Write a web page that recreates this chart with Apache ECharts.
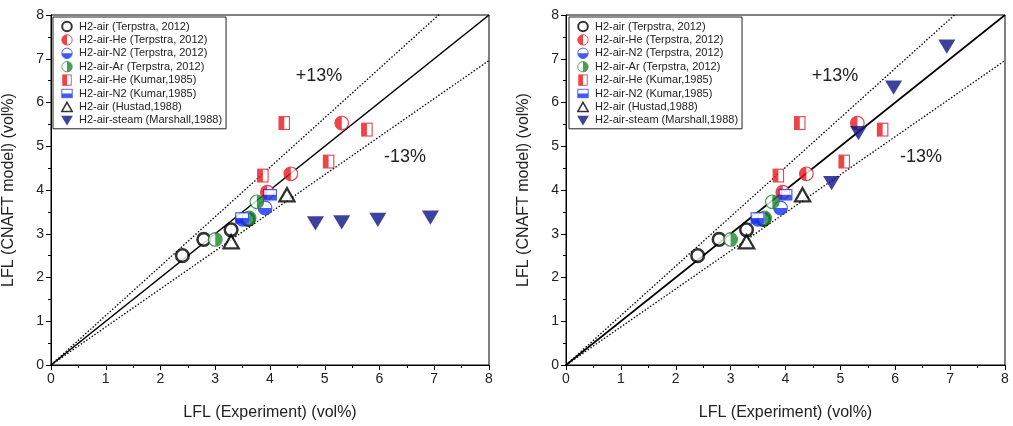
<!DOCTYPE html>
<html>
<head>
<meta charset="utf-8">
<script src="https://cdn.jsdelivr.net/npm/echarts@6/dist/echarts.min.js"></script>
<style>
  html, body { margin: 0; padding: 0; background: #fff; }
  #main { width: 1013px; height: 426px; }
</style>
</head>
<body>
<div id="main"></div>
<script>
// 数据 (LFL 实验值, LFL 模型值)
const terpAir = [[2.40, 2.50], [2.79, 2.87], [3.29, 3.09], [3.60, 3.33]];
const terpHe = [[3.95, 3.95], [4.38, 4.37], [5.31, 5.53]];
const terpN2 = [[3.50, 3.33], [3.91, 3.59]];
const terpAr = [[3.00, 2.87], [3.62, 3.36], [3.76, 3.73]];
const kumarHe = [[3.87, 4.33], [4.26, 5.53], [5.07, 4.65], [5.77, 5.38]];
const kumarN2 = [[3.49, 3.36], [4.00, 3.89]];
const hustad = [[3.29, 2.82], [4.31, 3.89]];
const marshallLeft = [[4.83, 3.25], [5.31, 3.27], [5.97, 3.33], [6.93, 3.38]];
const marshallRight = [[4.84, 4.17], [5.33, 5.31], [5.97, 6.35], [6.94, 7.29]];
const bandRatios = [1.13, 0.87];
const bandLabels = ["+13%", "-13%"];
const names = [
  "H2-air (Terpstra, 2012)",
  "H2-air-He (Terpstra, 2012)",
  "H2-air-N2 (Terpstra, 2012)",
  "H2-air-Ar (Terpstra, 2012)",
  "H2-air-He (Kumar,1985)",
  "H2-air-N2 (Kumar,1985)",
  "H2-air (Hustad,1988)",
  "H2-air-steam (Marshall,1988)",
];

const RED = "#e8161c";
const BLUE = "#1530f0";
const GREEN = "#17882a";
const NAVY = "#0f1488";

function svgIcon(body) {
  const svg = "<svg xmlns='http://www.w3.org/2000/svg' width='40' height='40' viewBox='0 0 20 20'>" + body + "</svg>";
  return "image://data:image/svg+xml;charset=utf-8," + encodeURIComponent(svg);
}

// 标记符号
const symbols = [
  svgIcon("<circle cx='10' cy='10' r='7.4' fill='white' stroke='black' stroke-width='3'/>"),
  svgIcon("<circle cx='10' cy='10' r='8' fill='white' stroke='" + RED + "' stroke-width='1.4'/><path d='M10 2 A8 8 0 0 0 10 18 Z' fill='" + RED + "'/>"),
  svgIcon("<circle cx='10' cy='10' r='8' fill='white' stroke='" + BLUE + "' stroke-width='1.4'/><path d='M2 10 A8 8 0 0 0 18 10 Z' fill='" + BLUE + "'/>"),
  svgIcon("<circle cx='10' cy='10' r='8' fill='white' stroke='" + GREEN + "' stroke-width='1.4'/><path d='M10 2 A8 8 0 0 1 10 18 Z' fill='" + GREEN + "'/>"),
  svgIcon("<rect x='3.5' y='2' width='13' height='16' fill='white' stroke='" + RED + "' stroke-width='1.4'/><rect x='3.5' y='2' width='6.5' height='16' fill='" + RED + "'/>"),
  svgIcon("<rect x='2' y='3.5' width='16' height='13' fill='white' stroke='" + BLUE + "' stroke-width='1.4'/><rect x='2' y='10' width='16' height='6.5' fill='" + BLUE + "'/>"),
  svgIcon("<path d='M10 3 L18 17 L2 17 Z' fill='white' stroke='black' stroke-width='2.4' stroke-linejoin='miter'/>"),
  svgIcon("<path d='M1 3 L19 3 L10 18 Z' fill='" + NAVY + "'/>"),
];
const sizes = [17, 17, 17, 17, 16, 16, 19, 19];

const FONT = "Liberation Sans";

function makeSeries(gi, marshall) {
  const sets = [terpAir, terpHe, terpN2, terpAr, kumarHe, kumarN2, hustad, marshall];
  const out = [];
  // y = x 和 ±13% 线
  out.push({
    type: "line", xAxisIndex: gi, yAxisIndex: gi, silent: true, symbol: "none",
    data: [[0, 0], [8, 8]], lineStyle: { color: "#000", width: 1.6 }, z: 1,
  });
  bandRatios.forEach(function (r) {
    out.push({
      type: "line", xAxisIndex: gi, yAxisIndex: gi, silent: true, symbol: "none", clip: true,
      data: [[0, 0], [8, 8 * r]], lineStyle: { color: "#000", width: 1.3, type: [1.5, 1.8] }, z: 1,
    });
  });
  sets.forEach(function (d, i) {
    out.push({
      type: "scatter", name: names[i], xAxisIndex: gi, yAxisIndex: gi,
      symbol: symbols[i], symbolSize: sizes[i], data: d, z: 3,
    });
  });
  return out;
}

const grids = [
  { left: 50, top: 15, width: 439, height: 355 },
  { left: 566, top: 15, width: 439, height: 355 },
];

function axisCommon(name, isX) {
  return {
    type: "value", min: 0, max: 8, interval: 1, name: name,
    nameLocation: "middle", nameGap: isX ? 40 : 34,
    nameTextStyle: { fontFamily: FONT, fontSize: 16, color: "#222" },
    axisLine: { show: true, onZero: false, lineStyle: { color: "#000", width: 1 } },
    axisTick: { show: true, inside: false, length: 5, lineStyle: { color: "#000" } },
    minorTick: { show: true, splitNumber: 2, length: 3, lineStyle: { color: "#000" } },
    splitLine: { show: false },
    axisLabel: { fontFamily: FONT, fontSize: 14, color: "#222", margin: 7 },
  };
}

function legendFor(gi, left) {
  return {
    orient: "vertical", left: left, top: 17,
    data: names, itemWidth: 14, itemHeight: 13, itemGap: 0.4,
    borderColor: "#222", borderWidth: 1, padding: [3, 4, 2, 7],
    backgroundColor: "#fff",
    textStyle: { fontFamily: FONT, fontSize: 11, color: "#222" },
    selectedMode: false,
  };
}

function pctText(x, y, t) {
  return {
    type: "text", x: x, y: y,
    style: { text: t, fontFamily: FONT, fontSize: 18, fill: "#222", align: "center", verticalAlign: "middle" },
  };
}

const option = {
  backgroundColor: "#fff",
  animation: false,
  grid: grids.map(function (g) {
    return Object.assign({ show: true, borderColor: "#000", borderWidth: 1, backgroundColor: "transparent" }, g);
  }),
  xAxis: [axisCommon("LFL (Experiment) (vol%)", true), Object.assign(axisCommon("LFL (Experiment) (vol%)", true), { gridIndex: 1 })],
  yAxis: [axisCommon("LFL (CNAFT model) (vol%)", false), Object.assign(axisCommon("LFL (CNAFT model) (vol%)", false), { gridIndex: 1 })],
  legend: [legendFor(0, 53), legendFor(1, 569)],
  graphic: [
    pctText(319, 76, bandLabels[0]),
    pctText(405, 157, bandLabels[1]),
    pctText(835, 76, bandLabels[0]),
    pctText(921, 157, bandLabels[1]),
  ],
  series: makeSeries(0, marshallLeft).concat(makeSeries(1, marshallRight)),
};

const myChart = echarts.init(document.getElementById("main"));
myChart.setOption(option);
</script>
</body>
</html>
